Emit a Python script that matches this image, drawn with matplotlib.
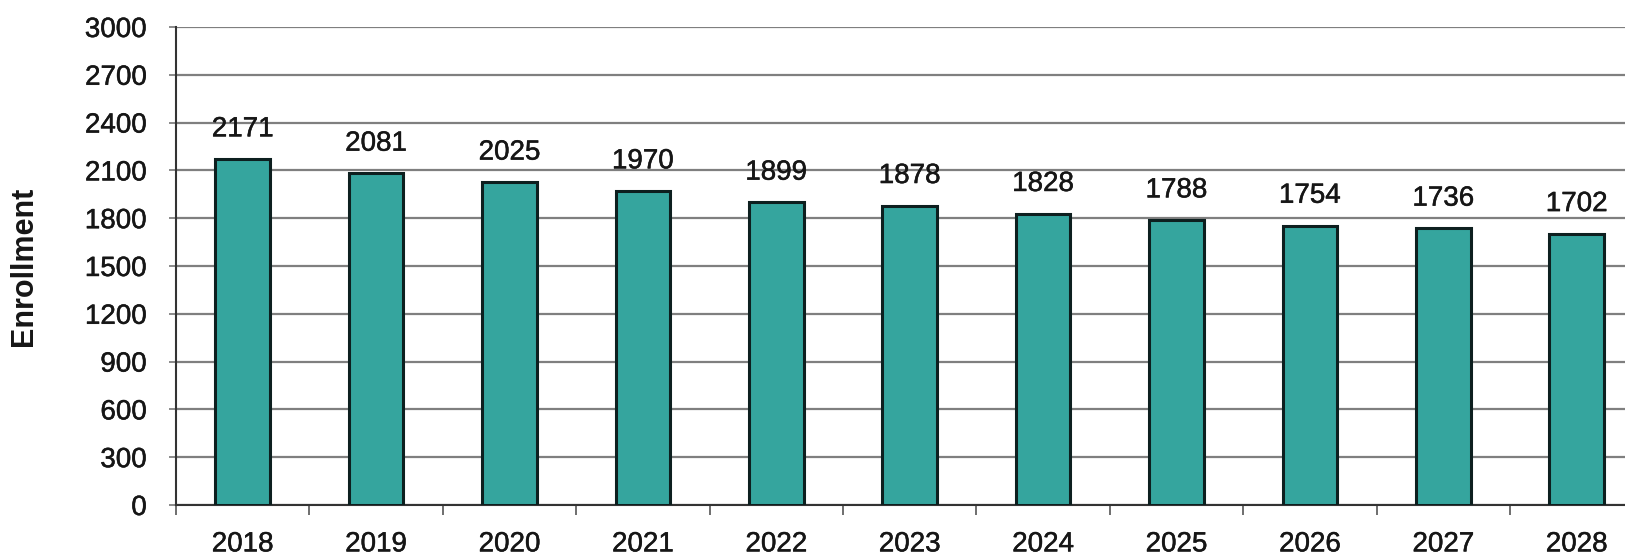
import matplotlib
matplotlib.use("Agg")

import matplotlib.pyplot as plt
import matplotlib.patheffects as pe
import numpy as np

plt.rcParams["font.family"] = ["Liberation Sans", "DejaVu Sans"]

years = ["2018", "2019", "2020", "2021", "2022", "2023",
         "2024", "2025", "2026", "2027", "2028"]
enrollment = [2171, 2081, 2025, 1970, 1899, 1878, 1828, 1788, 1754, 1736, 1702]
y_ticks = [0, 300, 600, 900, 1200, 1500, 1800, 2100, 2400, 2700, 3000]

BAR_COLOR = "#35a59e"
GRID_COLOR = "#7f7f7f"
TEXT_COLOR = "#161616"
# slightly heavier strokes for the digits
heavy = [pe.withStroke(linewidth=0.35, foreground=TEXT_COLOR)]

fig = plt.figure(figsize=(16.25, 5.55), dpi=100)
ax = fig.add_axes([0.1083, 0.0901, 0.903, 0.8613])

x = np.arange(len(years))
ax.bar(x, enrollment, width=0.41, color=BAR_COLOR,
       edgecolor="#0d1f1f", linewidth=2.2, zorder=3)

for xi, val in zip(x, enrollment):
    ax.text(xi, val + 105, str(val), ha="center", va="bottom",
            fontsize=20, color=TEXT_COLOR, zorder=4, path_effects=heavy)

ax.set_xlim(-0.5, len(years) - 0.5)
ax.set_ylim(0, 3000)
ax.set_yticks(y_ticks)
ax.set_yticklabels([str(t) for t in y_ticks], fontsize=20, color=TEXT_COLOR)

# category labels centred, tick marks on the boundaries
ax.set_xticks(x)
ax.set_xticklabels(years, fontsize=20, color=TEXT_COLOR)
ax.tick_params(axis="x", which="major", length=0, pad=19)
ax.set_xticks(np.arange(len(years) + 1) - 0.5, minor=True)
ax.tick_params(axis="x", which="minor", length=7, width=1.2, color="#555555")
ax.tick_params(axis="y", length=5, width=1.2, color="#777777", pad=16)

for lbl in ax.get_xticklabels() + ax.get_yticklabels():
    lbl.set_path_effects(heavy)

ax.yaxis.grid(True, color=GRID_COLOR, linewidth=1.6, zorder=0)
ax.set_axisbelow(True)

for side in ["top", "right"]:
    ax.spines[side].set_visible(False)
ax.spines["left"].set_color("#333333")
ax.spines["left"].set_linewidth(1.5)
ax.spines["bottom"].set_color("#333333")
ax.spines["bottom"].set_linewidth(1.5)

ax.set_ylabel("Enrollment", fontsize=22, fontweight="bold", color=TEXT_COLOR)
ax.yaxis.set_label_coords(-0.0935, 0.5)

fig.savefig("out.png", dpi=100)
